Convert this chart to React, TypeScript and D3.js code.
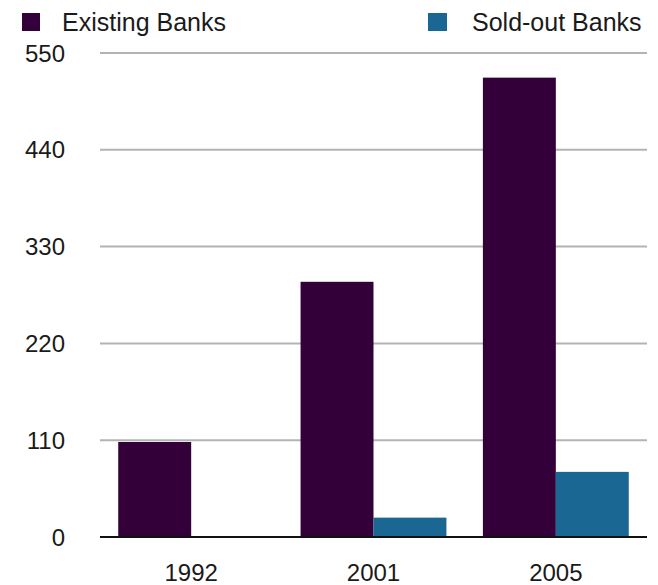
import React from "react";
import * as d3 from "d3";

const years = ["1992", "2001", "2005"];
const existingBanks = [108, 290, 522];
const soldOutBanks = [0, 22, 74];
const yTicks = [0, 110, 220, 330, 440, 550];
const seriesNames = ["Existing Banks", "Sold-out Banks"];
const seriesColors = ["#33003a", "#1a6794"];

export default function App() {
  const W = 658, H = 585;
  const left = 100, right = 647, top = 53, bottom = 537;
  const x0 = d3.scaleBand<string>().domain(years).range([left, right]).paddingInner(0.2).paddingOuter(0.1);
  const x1 = d3.scaleBand<string>().domain(seriesNames).range([0, x0.bandwidth()]);
  const y = d3.scaleLinear().domain([0, 550]).range([bottom, top]);
  const series = [existingBanks, soldOutBanks];
  const font = "'Liberation Sans', Arial, Helvetica, sans-serif";
  return (
    <svg width={W} height={H} style={{ position: "fixed", left: 0, top: 0, background: "#fff" }} fontFamily={font}>
      {yTicks.filter((t) => t > 0).map((t) => (
        <line key={t} x1={left} x2={right} y1={y(t)} y2={y(t)} stroke="#b3b3b3" strokeWidth={2} />
      ))}
      {yTicks.map((t) => (
        <text key={"l" + t} x={65} y={y(t)} dy="0.36em" textAnchor="end" fontSize={24} fill="#1a1a1a">{t}</text>
      ))}
      {years.map((yr, i) => (
        <g key={yr} transform={`translate(${x0(yr)},0)`}>
          {series.map((s, j) => (
            s[i] > 0 ? (
              <rect key={j} x={x1(seriesNames[j])} y={y(s[i])} width={x1.bandwidth()} height={y(0) - y(s[i])} fill={seriesColors[j]} />
            ) : null
          ))}
        </g>
      ))}
      <line x1={left} x2={right} y1={y(0)} y2={y(0)} stroke="#111" strokeWidth={2} />
      {years.map((yr) => (
        <text key={"x" + yr} x={(x0(yr) as number) + x0.bandwidth() / 2} y={581} textAnchor="middle" fontSize={24} fill="#1a1a1a">{yr}</text>
      ))}
      <rect x={22} y={13} width={18} height={18} fill={seriesColors[0]} />
      <text x={62} y={31} fontSize={25} fill="#1a1a1a">{seriesNames[0]}</text>
      <rect x={428} y={13} width={19} height={18} fill={seriesColors[1]} />
      <text x={472} y={31} fontSize={25} fill="#1a1a1a">{seriesNames[1]}</text>
    </svg>
  );
}
